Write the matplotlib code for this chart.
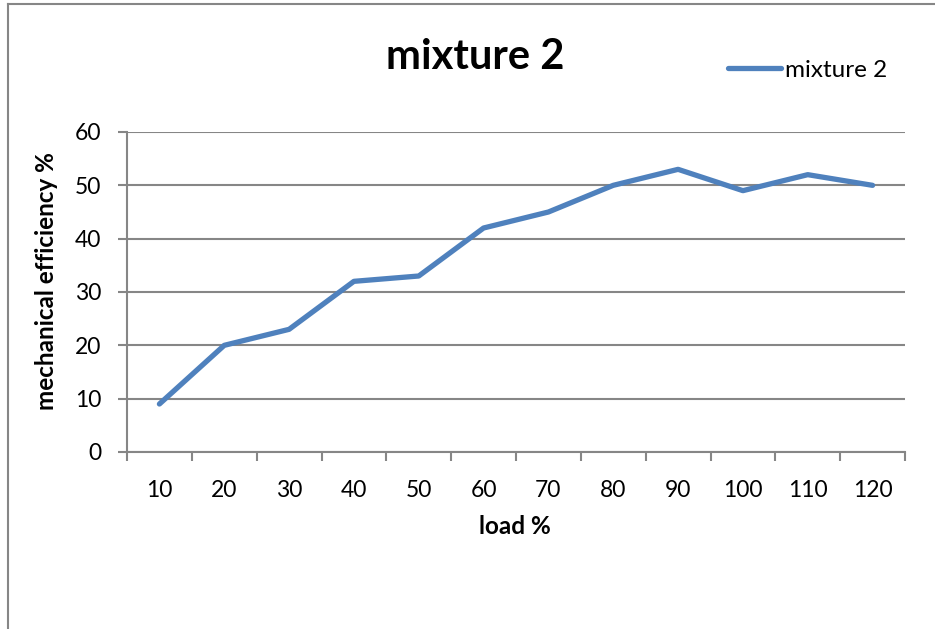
import matplotlib
matplotlib.use("Agg")
import matplotlib.pyplot as plt
from matplotlib.lines import Line2D

# load steps and measured mechanical efficiency for mixture 2
load = ["10", "20", "30", "40", "50", "60", "70", "80", "90", "100", "110", "120"]
efficiency = [9, 20, 23, 32, 33, 42, 45, 50, 53, 49, 52, 50]
y_ticks = [0, 10, 20, 30, 40, 50, 60]

plt.rcParams['font.family'] = ['Lato', 'DejaVu Sans']
grid_col = '#868686'
line_col = '#4F81BD'

fig = plt.figure(figsize=(9.35, 6.29), dpi=100)
W, H = 935, 629
# plot area in pixels: x 127..905, y 132..452
ax = fig.add_axes([127 / W, 1 - 452 / H, (905 - 127) / W, (452 - 132) / H])

x = [i + 0.5 for i in range(len(load))]
ax.plot(x, efficiency, color=line_col, linewidth=3.8, solid_joinstyle='round',
        solid_capstyle='round')

ax.set_xlim(0, len(load))
ax.set_ylim(0, 60)
ax.set_yticks(y_ticks)
ax.set_xticks(range(len(load) + 1))
ax.set_xticklabels([])
ax.set_xticks(x, minor=True)
ax.set_xticklabels(load, minor=True)
ax.tick_params(axis='x', which='major', length=6.5, width=1.5, color=grid_col, direction='out')
ax.tick_params(axis='x', which='minor', length=0, labelsize=16.5, pad=20)
ax.tick_params(axis='y', length=6.5, width=1.5, color=grid_col, labelsize=16.5, pad=12)

for v in y_ticks:
    ax.axhline(v, color=grid_col, linewidth=1.5, zorder=0)
for name, sp in ax.spines.items():
    sp.set_visible(name in ('left', 'bottom'))
    sp.set_color(grid_col)
    sp.set_linewidth(1.5)

fig.text(515 / W, 1 - 527 / H, "load %", fontsize=17.5, fontweight='bold',
         ha='center', va='center')
fig.text(47 / W, 1 - 281 / H, "mechanical efficiency %", fontsize=17.5, fontweight='bold',
         ha='center', va='center', rotation=90)

fig.text(475 / W, 1 - 57 / H, "mixture 2", fontsize=30, fontweight='bold',
         ha='center', va='center')

handle = Line2D([0], [0], color=line_col, linewidth=3.8, solid_capstyle='round')
fig.legend([handle], ["mixture 2"], loc='center left', bbox_to_anchor=(728 / W, 1 - 70 / H),
           frameon=False, fontsize=17.5, handlelength=2.2, handletextpad=0.15,
           borderpad=0, borderaxespad=0)

# chart frame edges
fig.add_artist(Line2D([8 / W, 8 / W], [0, 1 - 4 / H], color=grid_col, linewidth=1.5))
fig.add_artist(Line2D([8 / W, 1], [1 - 4 / H, 1 - 4 / H], color=grid_col, linewidth=1.5))

fig.savefig("out.png", dpi=100)
